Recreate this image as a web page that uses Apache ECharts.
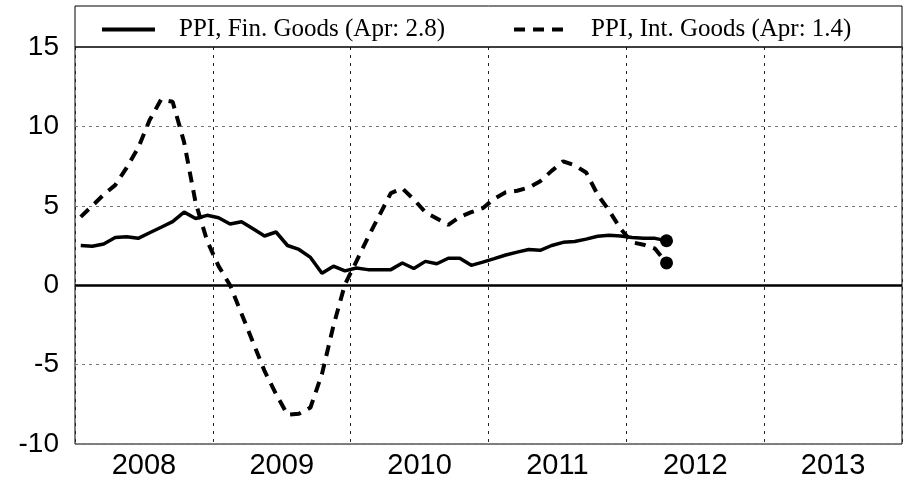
<!DOCTYPE html>
<html>
<head>
<meta charset="utf-8">
<script src="https://cdn.jsdelivr.net/npm/echarts@6/dist/echarts.min.js"></script>
<style>
  html, body { margin: 0; padding: 0; background: #fff; }
  #chart { width: 907px; height: 480px; }
</style>
</head>
<body>
<div id="chart"></div>
<script>
// monthly data, Jan 2008 - Apr 2012
var startYear = 2008;
var years = ['2008', '2009', '2010', '2011', '2012', '2013'];
var yTicks = [-10, -5, 0, 5, 10, 15];
var finName = 'PPI, Fin. Goods (Apr: 2.8)';
var intName = 'PPI, Int. Goods (Apr: 1.4)';

var finGoods = [
  2.5, 2.45, 2.6, 3.0, 3.05, 2.95, 3.3, 3.65, 4.0, 4.6, 4.2, 4.4,
  4.25, 3.85, 4.0, 3.55, 3.1, 3.35, 2.5, 2.25, 1.75, 0.75, 1.2, 0.9,
  1.08, 0.98, 0.98, 0.98, 1.4, 1.05, 1.5, 1.35, 1.7, 1.7, 1.25, 1.45,
  1.67, 1.9, 2.08, 2.25, 2.2, 2.5, 2.7, 2.75, 2.9, 3.08, 3.15, 3.1,
  3.0, 2.95, 2.95, 2.8
];
var intGoods = [
  4.3, 5.0, 5.7, 6.3, 7.4, 8.65, 10.4, 11.7, 11.55, 9.0, 5.2, 2.8,
  1.2, 0.0, -1.8, -3.6, -5.4, -6.85, -8.15, -8.1, -7.7, -5.6, -2.55, 0.05,
  1.5, 3.0, 4.4, 5.8, 6.1, 5.4, 4.6, 4.2, 3.8, 4.3, 4.6, 4.85,
  5.45, 5.85, 5.95, 6.15, 6.55, 7.2, 7.8, 7.55, 7.1, 5.7, 4.7, 3.55,
  2.7, 2.55, 2.3, 1.4
];

function toPoints(arr) {
  return arr.map(function (v, i) {
    return [startYear + (i + 0.5) / 12, v];
  });
}
var finPts = toPoints(finGoods);
var intPts = toPoints(intGoods);

var chart = echarts.init(document.getElementById('chart'));

var legendText = {
  fontFamily: 'Liberation Serif',
  fontSize: 25,
  color: '#000',
  padding: [0, 0, 0, 19]
};
var legendBase = {
  top: 12,
  itemWidth: 53, itemHeight: 14,
  itemStyle: { color: 'transparent', borderColor: 'transparent', borderWidth: 0 },
  lineStyle: { width: 4 },
  textStyle: legendText
};

var option = {
  animation: false,
  backgroundColor: '#fff',
  grid: {
    left: 75, right: 5, top: 47, bottom: 35,
    show: true, borderColor: '#000', borderWidth: 1
  },
  graphic: [{
    type: 'rect',
    shape: { x: 75, y: 6, width: 827, height: 41 },
    style: { fill: 'none', stroke: '#000', lineWidth: 1 },
    z: 100
  }],
  legend: [
    Object.assign({ data: [finName], left: 95 }, legendBase),
    Object.assign({ data: [intName], left: 507 }, legendBase)
  ],
  xAxis: [{
    type: 'value',
    min: 2008, max: 2014, interval: 1,
    axisLine: { show: false },
    axisTick: { show: false },
    axisLabel: { show: false },
    splitLine: { show: true, lineStyle: { color: '#222', type: [3, 5], width: 1 } }
  }, {
    type: 'category',
    data: years,
    position: 'bottom',
    boundaryGap: true,
    axisLine: { show: false },
    axisTick: { show: false },
    splitLine: { show: false },
    axisLabel: { fontFamily: 'Liberation Sans', fontSize: 29, color: '#000', margin: 7 }
  }],
  yAxis: {
    type: 'value',
    min: yTicks[0], max: yTicks[yTicks.length - 1], interval: 5,
    axisLine: { show: false },
    axisTick: { show: false },
    axisLabel: { fontFamily: 'Liberation Sans', fontSize: 28, color: '#000', margin: 16 },
    splitLine: { show: true, lineStyle: { color: '#777', type: [3, 4], width: 1 } }
  },
  series: [{
    name: finName,
    type: 'line',
    data: finPts,
    symbol: 'none',
    lineStyle: { color: '#000', width: 3.5 },
    itemStyle: { color: '#000' },
    z: 4,
    markLine: {
      silent: true, symbol: 'none', label: { show: false },
      lineStyle: { color: '#000', width: 2.5, type: 'solid' },
      data: [{ yAxis: 0 }]
    }
  }, {
    name: intName,
    type: 'line',
    data: intPts,
    symbol: 'none',
    lineStyle: { color: '#000', width: 4, type: [11, 8] },
    itemStyle: { color: '#000' },
    z: 3
  }, {
    type: 'scatter',
    data: [finPts[finPts.length - 1], intPts[intPts.length - 1]],
    symbol: 'circle',
    symbolSize: 13,
    itemStyle: { color: '#000', opacity: 1 },
    z: 5
  }]
};

chart.setOption(option);
</script>
</body>
</html>
